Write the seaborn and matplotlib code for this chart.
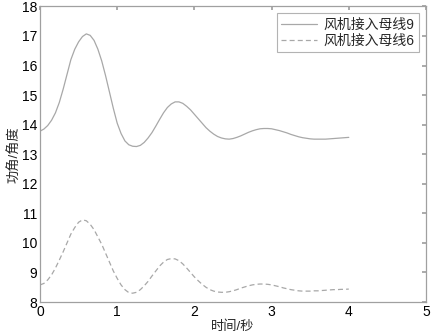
import numpy as np
import pandas as pd
import matplotlib
matplotlib.use("Agg")
import matplotlib.pyplot as plt
import seaborn as sns

t = [0.00, 0.05, 0.10, 0.15, 0.20, 0.25, 0.30, 0.35, 0.40, 0.45,
     0.50, 0.55, 0.60, 0.65, 0.70, 0.75, 0.80, 0.85, 0.90, 0.95,
     1.00, 1.05, 1.10, 1.15, 1.20, 1.25, 1.30, 1.35, 1.40, 1.45,
     1.50, 1.55, 1.60, 1.65, 1.70, 1.75, 1.80, 1.85, 1.90, 1.95,
     2.00, 2.05, 2.10, 2.15, 2.20, 2.25, 2.30, 2.35, 2.40, 2.45,
     2.50, 2.55, 2.60, 2.65, 2.70, 2.75, 2.80, 2.85, 2.90, 2.95,
     3.00, 3.05, 3.10, 3.15, 3.20, 3.25, 3.30, 3.35, 3.40, 3.45,
     3.50, 3.55, 3.60, 3.65, 3.70, 3.75, 3.80, 3.85, 3.90, 3.95, 4.00]
bus9 = [13.78, 13.85, 13.97, 14.15, 14.40, 14.75, 15.20, 15.70, 16.20, 16.55,
        16.80, 16.98, 17.07, 17.02, 16.85, 16.55, 16.15, 15.65, 15.10, 14.55,
        14.05, 13.70, 13.45, 13.32, 13.27, 13.26, 13.30, 13.40, 13.55, 13.73,
        13.95, 14.18, 14.40, 14.58, 14.70, 14.77, 14.77, 14.72, 14.62, 14.50,
        14.35, 14.20, 14.05, 13.90, 13.78, 13.68, 13.60, 13.55, 13.52, 13.51,
        13.53, 13.57, 13.62, 13.68, 13.74, 13.79, 13.83, 13.86, 13.87, 13.87,
        13.86, 13.83, 13.80, 13.76, 13.72, 13.67, 13.63, 13.59, 13.56, 13.54,
        13.52, 13.51, 13.51, 13.51, 13.51, 13.52, 13.53, 13.54, 13.55, 13.56, 13.57]
bus6 = [8.58, 8.63, 8.75, 8.92, 9.15, 9.42, 9.70, 10.00, 10.30, 10.52,
        10.70, 10.78, 10.75, 10.63, 10.45, 10.20, 9.95, 9.65, 9.35, 9.05,
        8.80, 8.58, 8.42, 8.32, 8.30, 8.33, 8.42, 8.55, 8.70, 8.88,
        9.05, 9.22, 9.35, 9.44, 9.47, 9.46, 9.40, 9.29, 9.15, 9.00,
        8.85, 8.72, 8.60, 8.50, 8.42, 8.37, 8.34, 8.33, 8.33, 8.35,
        8.38, 8.42, 8.47, 8.51, 8.55, 8.58, 8.60, 8.61, 8.61, 8.60,
        8.58, 8.55, 8.52, 8.48, 8.45, 8.42, 8.40, 8.38, 8.37, 8.37,
        8.37, 8.38, 8.38, 8.39, 8.40, 8.41, 8.42, 8.42, 8.43, 8.43, 8.44]
labels = ["风机接入母线9", "风机接入母线6"]

sns.set_theme(style="white")
plt.rcParams['font.family'] = ['Liberation Sans', 'Noto Sans CJK SC', 'DejaVu Sans']

df = pd.DataFrame({
    "t": t + t,
    "v": bus9 + bus6,
    "series": [labels[0]] * len(t) + [labels[1]] * len(t),
})

fig = plt.figure(figsize=(4.32, 3.36), dpi=100)
ax = fig.add_axes([0.0926, 0.101, 0.8935, 0.880])
sns.lineplot(data=df, x="t", y="v", hue="series", style="series",
             palette=["#a8a8a8", "#a8a8a8"], dashes=[(None, None), (4, 2.5)],
             linewidth=0.9, ax=ax, legend=True)

ax.set_xlim(0, 5)
ax.set_ylim(8, 18)
ax.set_xticks([0, 1, 2, 3, 4, 5])
ax.set_yticks(list(range(8, 19)))
ax.tick_params(direction="in", length=3, color="#a0a0a0", labelsize=10,
               top=True, right=True, labelcolor="black", pad=2)
for s in ax.spines.values():
    s.set_color("#a0a0a0")
    s.set_linewidth(0.9)
ax.set_xlabel("时间/秒", fontsize=9.5, labelpad=1)
ax.set_ylabel("功角/角度", fontsize=9.5, labelpad=0)

leg = ax.legend(loc="upper right", fontsize=10, frameon=True, fancybox=False,
                handlelength=2.6, borderaxespad=0.5, borderpad=0.3,
                labelspacing=0.15, handletextpad=0.5)
leg.get_frame().set_edgecolor("#a0a0a0")
leg.get_frame().set_linewidth(0.8)

fig.savefig("out.png", dpi=100)
